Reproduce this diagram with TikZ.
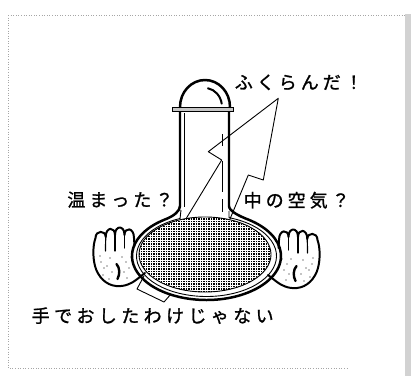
\documentclass[tikz,border=0pt]{standalone}
\usepackage{fontspec}
\newfontfamily\jpfont[FakeBold=1.2]{Noto Sans CJK JP}
% set each character in a box of fixed width (tracked text)
\newcommand\jptrack[2]{\def\jptrackw{#1}\jptrackloop#2\relax}
\def\jptrackloop#1{\ifx#1\relax\else\makebox[\jptrackw]{#1}\expandafter\jptrackloop\fi}
\begin{document}
\begin{tikzpicture}[x=1bp,y=-1bp,
  lbl/.style={inner sep=0pt, anchor=base west, font=\jpfont\fontsize{18bp}{21bp}\selectfont},
  glass/.style={line width=2.5pt, line join=round, line cap=round},
  thin/.style={line width=0.9pt, line join=round},
  handline/.style={line width=2pt, line join=round, line cap=round},
  crease/.style={line width=2.4pt, line cap=round},
  frame/.style={gray!70, dotted, line width=0.6pt}]
\useasboundingbox (0,0) rectangle (411,376);

% paper frame
\draw[frame] (8,15) -- (405,15);
\draw[frame] (8,15) -- (8,368) -- (347,368);
\fill[gray!35] (404.5,14) rectangle (411,376);

% hands (left one, then its mirror image)
\def\handshape{%
  \draw[handline] (134.5,246) -- (134,238)
    .. controls (134,227) and (124.5,227) .. (124.5,235)
    .. controls (124.5,225) and (115,225) .. (115,235)
    .. controls (115,226.5) and (105.7,226.5) .. (105.7,237)
    .. controls (105.7,230) and (95.5,230) .. (95.5,238)
    .. controls (93,245) and (92.5,256) .. (95,266)
    .. controls (98,277) and (106,285) .. (116,286)
    .. controls (125,287) and (132,283) .. (136,280)
    -- (145,273);
  \draw[line width=1.2pt, line cap=round] (105.7,237) -- (105.5,251);
  \draw[line width=1.2pt, line cap=round] (115,235) -- (115,251);
  \draw[line width=1.2pt, line cap=round] (124.5,235) -- (124.5,248);
  \draw[crease] (116.5,264) .. controls (120,268) and (120,274) .. (117.5,279);
  \foreach \p in {(101,262),(104,268),(107,266),(103,275),(110,258),(126,262),(129,268),(124,272),(131,257),(109,279),(127,278),(100,256),(112,272),(122,257)}
    \fill \p circle (0.55);
}
\begin{scope}
  \handshape
\end{scope}
\begin{scope}[shift={(413,2)}, xscale=-1]
  \handshape
\end{scope}

% flask body and neck (outer wall)
\draw[glass] (180,111.5) -- (180,206)
  .. controls (180,211) and (174,216) .. ({206.5+74.5*cos(236.1)},{256+44*sin(236.1)})
  arc[start angle=236.1, end angle=-56.1, x radius=74.5, y radius=44]
  .. controls (239,216) and (229,211) .. (229,206) -- (229,111.5);
% inner wall of the glass
\draw[thin] (181,210) -- ({206.5+70*cos(247.8)},{256+40.5*sin(247.8)})
  arc[start angle=247.8, end angle=-71.2, x radius=70, y radius=40.5] -- (229,211);
\draw[line width=0.8pt] (184.5,113) -- (184.5,207);

% hatched contents
\begin{scope}
  \clip (205,254.5) ellipse [x radius=66, y radius=37.5];
  \fill[black] (130,210) rectangle (280,300);
  \foreach \i in {0,...,60} \draw[white, line width=0.45pt] (130+2.5*\i,210) -- ++(0,90);
  \foreach \j in {0,...,36} \draw[white, line width=0.45pt] (130,210+2.5*\j) -- ++(150,0);
\end{scope}
\draw[thin] (205,254.5) ellipse [x radius=66, y radius=37.5];

% rim and dome
\filldraw[fill=gray!45, draw=black, line width=1pt] (172,107) rectangle (233,111.5);
\draw[glass] (180,107) arc[start angle=180, end angle=360, x radius=25, y radius=27];
\draw[line width=2pt, line cap=round] ({205+17*cos(280)},{107+19*sin(280)})
  arc[start angle=280, end angle=350, x radius=17, y radius=19];

% dashed line inside the neck
\draw[line width=0.9pt] (222,134) -- (222,146);
\draw[line width=0.9pt] (222,161) -- (222,192);
\draw[line width=0.9pt] (222,199) -- (222,212);

% zigzag arrow
\coordinate (tip) at (278.3,98.3);
\coordinate (l1) at (208.3,151.7);
\coordinate (l2) at (221.7,160);
\coordinate (l3) at (186.5,218);
\coordinate (r1) at (263.3,180);
\coordinate (r2) at (248.3,175);
\coordinate (r3) at (230,219);
\draw[thin] (l3) -- (l2) -- (l1) -- (tip) -- (r1) -- (r2) -- (r3);

% callout box below the flask
\coordinate (b0) at (144,276);
\coordinate (b1) at (137,289);
\coordinate (b2) at (164,302);
\coordinate (b3) at (171,294);
\draw[thin] (b0) -- (b1) -- (b2) -- (b3);

% labels
\node[lbl] (t1) at (232.6,89) {\jptrack{22bp}{ふくらんだ！}};
\node[lbl] (t2) at (65.2,206.5) {\jptrack{22bp}{温まった？}};
\node[lbl] (t3) at (241.5,207) {\jptrack{22bp}{中の空気？}};
\node[lbl] (t4) at (29.3,322.5) {\jptrack{22.4bp}{手でおしたわけじゃない}};
\end{tikzpicture}
\end{document}
